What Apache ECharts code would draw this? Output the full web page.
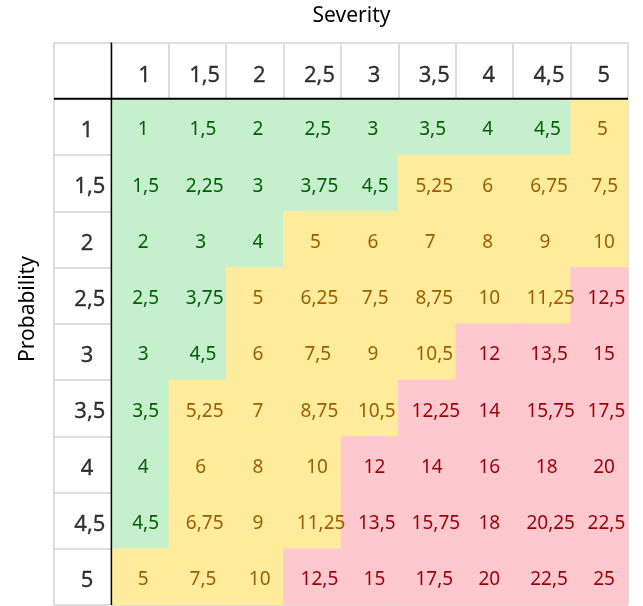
<!DOCTYPE html>
<html>
<head>
<meta charset="utf-8">
<script src="https://cdn.jsdelivr.net/npm/echarts@6/dist/echarts.min.js"></script>
<style>html,body{margin:0;padding:0;background:#fff}#chart{width:643px;height:606px}</style>
</head>
<body>
<div id="chart"></div>
<script>
// Tick labels (severity across, probability down)
const severityLabels = ['1', '1,5', '2', '2,5', '3', '3,5', '4', '4,5', '5'];
const probabilityLabels = ['1', '1,5', '2', '2,5', '3', '3,5', '4', '4,5', '5'];

// Cell values, one array per probability row
const row1   = [1, 1.5, 2, 2.5, 3, 3.5, 4, 4.5, 5];
const row1_5 = [1.5, 2.25, 3, 3.75, 4.5, 5.25, 6, 6.75, 7.5];
const row2   = [2, 3, 4, 5, 6, 7, 8, 9, 10];
const row2_5 = [2.5, 3.75, 5, 6.25, 7.5, 8.75, 10, 11.25, 12.5];
const row3   = [3, 4.5, 6, 7.5, 9, 10.5, 12, 13.5, 15];
const row3_5 = [3.5, 5.25, 7, 8.75, 10.5, 12.25, 14, 15.75, 17.5];
const row4   = [4, 6, 8, 10, 12, 14, 16, 18, 20];
const row4_5 = [4.5, 6.75, 9, 11.25, 13.5, 15.75, 18, 20.25, 22.5];
const row5   = [5, 7.5, 10, 12.5, 15, 17.5, 20, 22.5, 25];
const rows = [row1, row1_5, row2, row2_5, row3, row3_5, row4, row4_5, row5];

// Category axes include the header row / column at index 0
const xCats = [''].concat(severityLabels);
const yCats = [''].concat(probabilityLabels);

const FONT = 'Noto Sans';
function styleFor(v) {
  if (v < 5) return { bg: '#c6efce', fg: '#006100' };
  if (v < 12) return { bg: '#ffeb9c', fg: '#9c5f00' };
  return { bg: '#ffc7ce', fg: '#9c0006' };
}
function fmt(v) { return String(v).replace('.', ','); }
// text in the reference sits a little right of centre, more so for wider strings
function shiftFor(text, size) {
  const w = echarts.format.getTextRect ? echarts.format.getTextRect(text, size + 'px "Noto Sans"').width : text.length * size * 0.5;
  return 1.5 + 0.15 * w;
}

const heatData = [];
rows.forEach((r, i) => {
  r.forEach((v, j) => {
    const s = styleFor(v);
    const t = fmt(v);
    heatData.push({ value: [j + 1, i + 1, v], itemStyle: { color: s.bg },
      label: { color: s.fg, offset: [shiftFor(t, 19), 3] } });
  });
});

const headerData = [];
severityLabels.forEach((t, j) => headerData.push({ value: [j + 1, 0], name: t, label: { offset: [shiftFor(t, 22) + 1, 5] } }));
probabilityLabels.forEach((t, i) => headerData.push({ value: [0, i + 1], name: t, label: { offset: [shiftFor(t, 22) + 1, 4] } }));

const chart = echarts.init(document.getElementById('chart'), null, { renderer: 'canvas' });
const catAxisCommon = {
  type: 'category',
  axisLine: { show: false },
  axisTick: { show: false },
  axisLabel: { show: false },
  splitLine: { show: true, interval: 0, lineStyle: { color: '#dddddd', width: 2 } }
};
chart.setOption({
  animation: false,
  backgroundColor: '#ffffff',
  grid: { left: 54, right: 15, top: 42.5, bottom: 1 },
  xAxis: [
    Object.assign({ data: xCats, position: 'top' }, catAxisCommon),
    { type: 'value', min: 0, max: 10, show: false }
  ],
  yAxis: [
    Object.assign({ data: yCats, inverse: true }, catAxisCommon),
    { type: 'value', min: 0, max: 10, inverse: true, show: false }
  ],
  graphic: [
    { type: 'text', x: 351.5, y: 16, style: { text: 'Severity', font: '21px "Noto Sans"', fill: '#000', textAlign: 'center', textVerticalAlign: 'middle' } },
    { type: 'text', x: 28, y: 309, rotation: Math.PI / 2, style: { text: 'Probability', font: '21px "Noto Sans"', fill: '#000', textAlign: 'center', textVerticalAlign: 'middle' } }
  ],
  series: [
    {
      type: 'heatmap',
      data: heatData,
      silent: true,
      itemStyle: { borderWidth: 0 },
      emphasis: { disabled: true },
      label: {
        show: true,
        fontFamily: FONT,
        fontSize: 19,
        formatter: p => fmt(p.value[2])
      }
    },
    {
      type: 'scatter',
      data: headerData,
      symbolSize: 0,
      silent: true,
      label: {
        show: true,
        position: 'inside',
        fontFamily: FONT,
        fontSize: 22,
        color: '#000',
        textBorderColor: '#000',
        textBorderWidth: 0.3,
        formatter: p => p.name
      }
    },
    {
      type: 'line', xAxisIndex: 1, yAxisIndex: 1, silent: true, symbol: 'none', z: 10,
      data: [[0, 1], [10, 1]], lineStyle: { color: '#000', width: 2 }
    },
    {
      type: 'line', xAxisIndex: 1, yAxisIndex: 1, silent: true, symbol: 'none', z: 10,
      data: [[1, 0], [1, 10]], lineStyle: { color: '#000', width: 1.5 }
    }
  ]
});
</script>
</body>
</html>
